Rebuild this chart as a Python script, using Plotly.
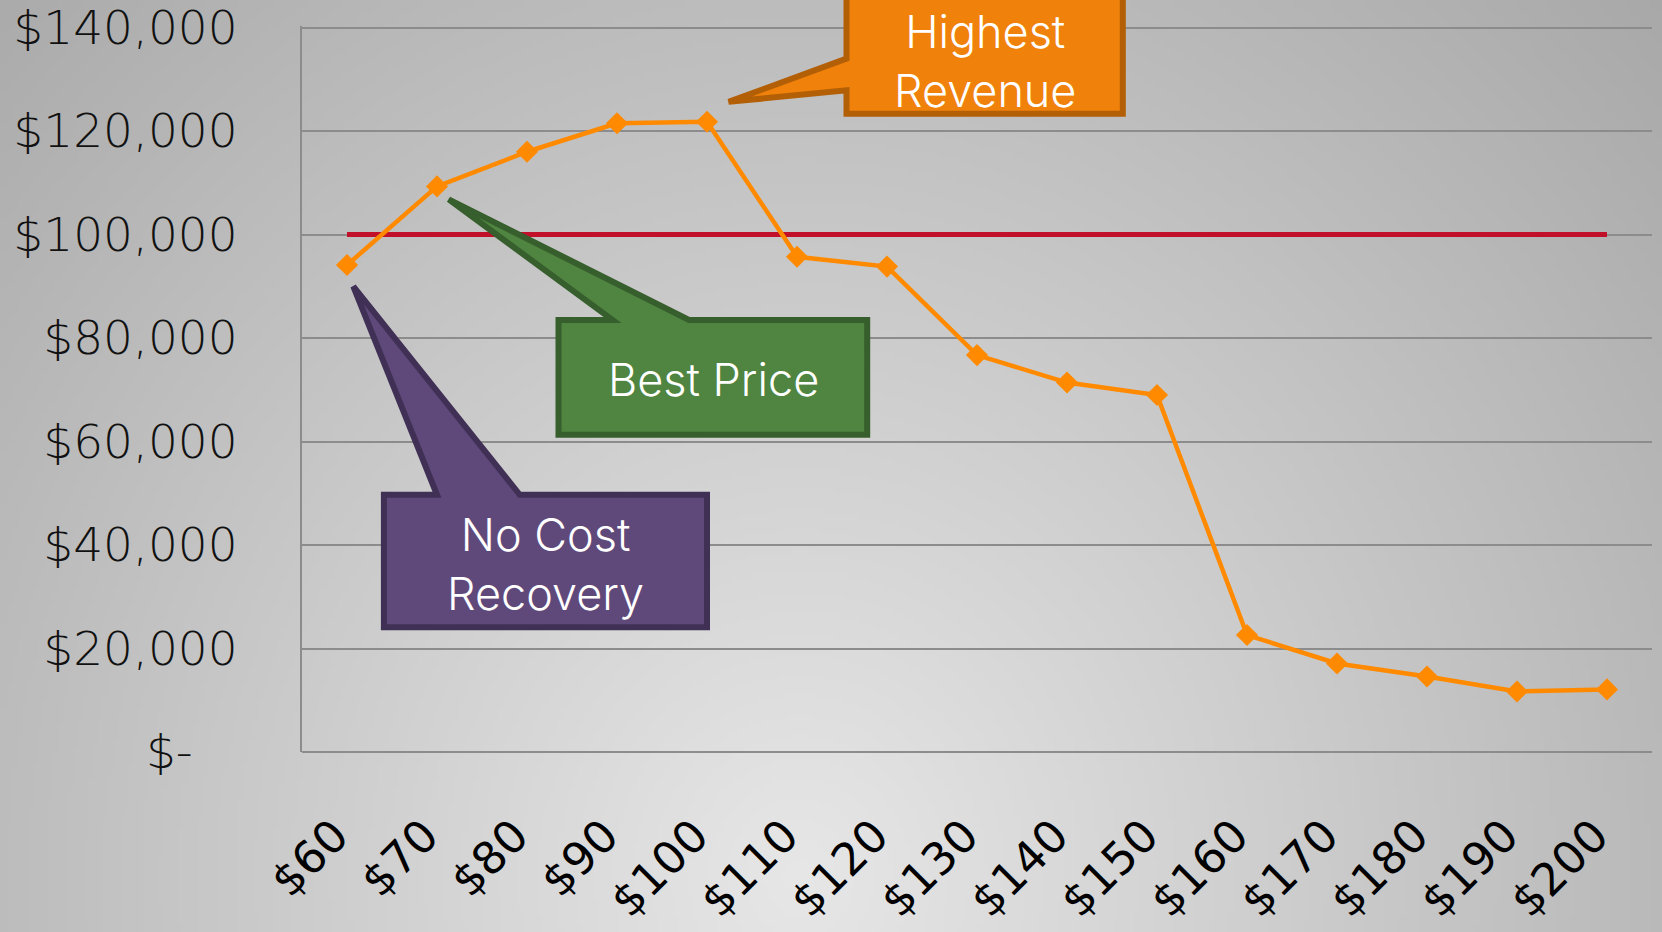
import base64
import struct
import zlib

import numpy as np
import plotly.graph_objects as go

# ---------------- data ----------------
prices = [60, 70, 80, 90, 100, 110, 120, 130, 140, 150, 160, 170, 180, 190, 200]
price_labels = ["$60", "$70", "$80", "$90", "$100", "$110", "$120", "$130",
                "$140", "$150", "$160", "$170", "$180", "$190", "$200"]
revenue = [94100, 109300, 116000, 121500, 121800, 95700, 93800, 76700,
           71400, 69000, 22600, 17100, 14600, 11700, 12100]
cost_recovery = [100000, 100000, 100000, 100000, 100000, 100000, 100000, 100000,
                 100000, 100000, 100000, 100000, 100000, 100000, 100000]
y_tick_values = [0, 20000, 40000, 60000, 80000, 100000, 120000, 140000]
y_tick_labels = ["$-\u00a0\u00a0\u00a0", "$20,000", "$40,000", "$60,000",
                 "$80,000", "$100,000", "$120,000", "$140,000"]

# ---------------- layout constants ----------------
W, H = 1662, 932
ML, MR, MT, MB = 302, 10, 26, 180
PW, PH = W - ML - MR, H - MT - MB


# ---------------- background gradient (PNG data URI) ----------------
def png_uri(arr):
    h, w, _ = arr.shape
    raw = b"".join(b"\x00" + arr[r].tobytes() for r in range(h))

    def chunk(tag, data):
        c = struct.pack(">I", len(data)) + tag + data
        return c + struct.pack(">I", zlib.crc32(tag + data) & 0xFFFFFFFF)

    png = (b"\x89PNG\r\n\x1a\n"
           + chunk(b"IHDR", struct.pack(">IIBBBBB", w, h, 8, 2, 0, 0, 0))
           + chunk(b"IDAT", zlib.compress(raw, 9))
           + chunk(b"IEND", b""))
    return "data:image/png;base64," + base64.b64encode(png).decode()


gw, gh = 332, 186
gx = np.linspace(0, W, gw)[None, :]
gy = np.linspace(0, H, gh)[:, None]
d = np.sqrt(((gx - 800) / 1100) ** 2 + ((gy - 880) / 1200) ** 2)
val = np.clip(231 - 58 * d, 165, 235).astype(np.uint8)
bg = np.stack([val, val, val], axis=-1)

fig = go.Figure()

fig.add_trace(go.Scatter(
    x=prices, y=cost_recovery, mode="lines",
    line=dict(color="#c0102a", width=5), name="Cost", hoverinfo="skip"))
fig.add_trace(go.Scatter(
    x=prices, y=revenue, mode="lines+markers",
    line=dict(color="#ff8a00", width=4.5),
    marker=dict(symbol="diamond", size=17, color="#ff8a00"),
    name="Revenue"))

# ---------------- callouts ----------------
purple_path = ("M 64.1,49700 L 70,49700 L 60.7,90000 L 79.2,49700 "
               "L 100,49700 L 100,24100 L 64.1,24100 Z")
green_path = ("M 83.5,83500 L 89.5,83500 L 71.3,106800 L 98,83500 "
              "L 117.8,83500 L 117.8,61300 L 83.5,61300 Z")
orange_path = ("M 115.5,1.08 L 115.5,0.955 L 102.4,0.8955 L 115.5,0.9115 "
               "L 115.5,0.879 L 146.2,0.879 L 146.2,1.08 Z")

fig.add_shape(type="path", path=purple_path, xref="x", yref="y",
              fillcolor="#5f497a", line=dict(color="#413055", width=6), layer="above")
fig.add_shape(type="path", path=green_path, xref="x", yref="y",
              fillcolor="#4f8541", line=dict(color="#375f2d", width=6), layer="above")
fig.add_shape(type="path", path=orange_path, xref="x", yref="paper",
              fillcolor="#f0820c", line=dict(color="#b35f06", width=6), layer="above")

callout_font = dict(family="Inter, 'Noto Sans', sans-serif", size=45, color="white", weight=300)
fig.add_annotation(x=82, y=36300, xref="x", yref="y", text="No Cost<br>Recovery",
                   showarrow=False, font=callout_font, align="center")
fig.add_annotation(x=100.7, y=72000, xref="x", yref="y", text="Best Price",
                   showarrow=False, font=callout_font, align="center")
fig.add_annotation(x=130.9, y=133600, xref="x", yref="y", text="Highest<br>Revenue",
                   showarrow=False, font=callout_font, align="center")

fig.add_layout_image(dict(
    source=png_uri(bg), xref="paper", yref="paper",
    x=-ML / PW, y=1 + MT / PH, sizex=W / PW, sizey=H / PH,
    sizing="stretch", layer="below", xanchor="left", yanchor="top"))

fig.update_layout(
    width=W, height=H,
    margin=dict(l=ML, r=MR, t=MT, b=MB, pad=0, autoexpand=False),
    paper_bgcolor="#c8c8c8",
    plot_bgcolor="rgba(0,0,0,0)",
    showlegend=False,
    xaxis=dict(
        range=[55, 205], tickmode="array", tickvals=prices, ticktext=price_labels,
        tickangle=-45, showgrid=False, zeroline=False, showline=False,
        ticks="", ticklabelstandoff=47, ticklabelshift=-12, automargin=False,
        ticklabeloverflow="allow",
        tickfont=dict(family="DejaVu Sans, sans-serif", size=45, color="black"),
    ),
    yaxis=dict(
        range=[0, 140300], tickmode="array", tickvals=y_tick_values, ticktext=y_tick_labels,
        showgrid=True, gridcolor="#8c8c8c", gridwidth=2,
        zeroline=True, zerolinecolor="#8c8c8c", zerolinewidth=2,
        showline=True, linecolor="#8c8c8c", linewidth=2,
        ticks="", ticklabelstandoff=53, automargin=False,
        ticklabeloverflow="allow",
        tickfont=dict(family="DejaVu Sans, sans-serif", size=47, color="#111111", weight=200),
    ),
)

fig.write_html("out.html",
               config={"displayModeBar": False},
               post_script="document.body.style.margin='0';"
                           "document.body.style.overflow='hidden';")
